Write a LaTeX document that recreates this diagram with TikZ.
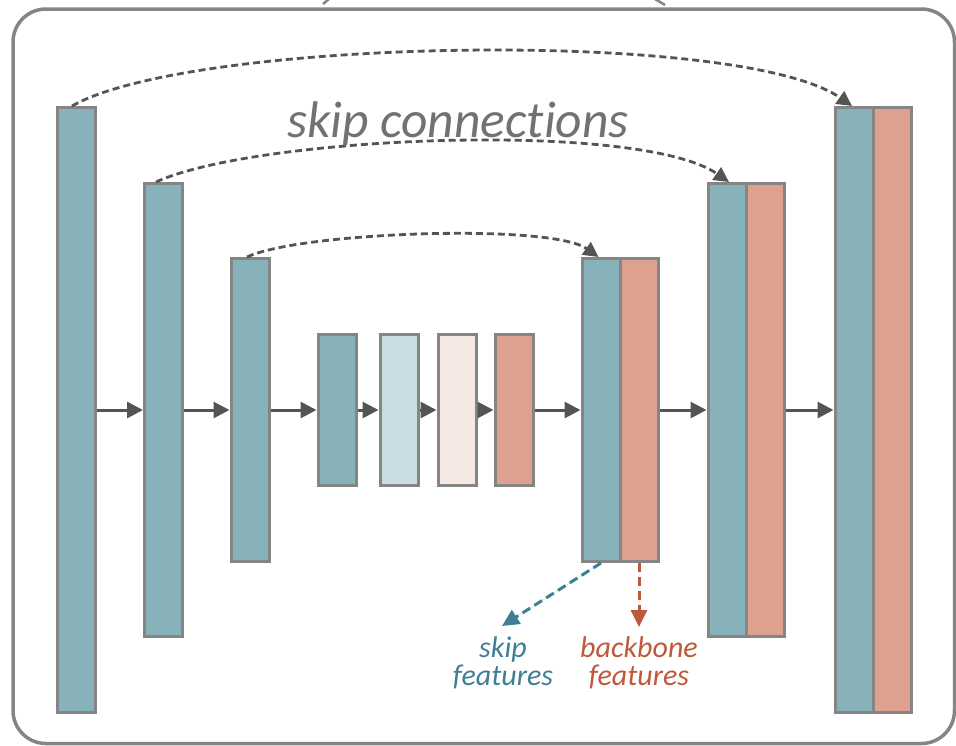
\documentclass[tikz,border=0pt]{standalone}
\usepackage{fontspec}
\newfontfamily\lblfont[Ligatures=NoCommon]{Carlito}
\usetikzlibrary{arrows.meta,calc}
\definecolor{tealblk}{HTML}{87B2B9}
\definecolor{salmonblk}{HTML}{DEA08F}
\definecolor{paleteal}{HTML}{CADDE2}
\definecolor{palesalmon}{HTML}{F5E7E2}
\definecolor{edgegray}{HTML}{858585}
\definecolor{flowgray}{HTML}{545454}
\definecolor{textgray}{HTML}{727272}
\definecolor{skipteal}{HTML}{3F7F96}
\definecolor{rust}{HTML}{C0583B}
\begin{document}
\begin{tikzpicture}[x=1pt,y=-1pt,
  blk/.style={draw=edgegray,line width=3pt,rectangle,inner sep=0pt,minimum width=38pt},
  flow/.style={draw=flowgray,line width=3pt,-{Triangle[length=16pt,width=16pt]}},
  skiparc/.style={draw=flowgray,line width=2.8pt,dash pattern=on 7pt off 4pt,
    -{Triangle[length=15pt,width=15pt]}},
  featarrow/.style={line width=3pt,dash pattern=on 9pt off 5pt,
    -{Triangle[length=17pt,width=16pt]}},
  lbl/.style={font=\lblfont\itshape\fontsize{30}{28}\selectfont,inner sep=0pt,
    align=center,anchor=base}]

\useasboundingbox (0,0) rectangle (956,745);

% outer frame
\draw[edgegray,line width=3.5pt,rounded corners=33pt] (13,9) rectangle (954.5,743.5);
% stray strokes at the top edge
\draw[edgegray,line width=2.5pt] (329,-1) -- (323,4);
\draw[edgegray,line width=2.5pt] (655,-1) -- (665,5);

% encoder
\node[blk,fill=tealblk,minimum height=605pt] (b1) at (76.5,410) {};
\node[blk,fill=tealblk,minimum height=453pt] (b2) at (163.5,410) {};
\node[blk,fill=tealblk,minimum height=303pt] (b3) at (250,410) {};

% bottleneck
\node[blk,fill=tealblk,minimum height=151pt] (m1) at (337,410) {};
\node[blk,fill=paleteal,minimum height=151pt] (m2) at (399,410) {};
\node[blk,fill=palesalmon,minimum height=151pt] (m3) at (457,410) {};
\node[blk,fill=salmonblk,minimum height=151pt] (m4) at (514,410) {};

% decoder (skip half + backbone half)
\node[blk,fill=tealblk,minimum height=303pt] (aT) at (601,410) {};
\node[blk,fill=salmonblk,minimum height=303pt] (aS) at (639,410) {};
\node[blk,fill=tealblk,minimum height=453pt] (bT) at (727,410) {};
\node[blk,fill=salmonblk,minimum height=453pt] (bS) at (765,410) {};
\node[blk,fill=tealblk,minimum height=605pt] (cT) at (854,410) {};
\node[blk,fill=salmonblk,minimum height=605pt] (cS) at (892,410) {};

% main flow
\draw[flow] (b1.east) -- (b2.west);
\draw[flow] (b2.east) -- (b3.west);
\draw[flow] (b3.east) -- (m1.west);
\draw[flow] (m1.east) -- (m2.west);
\draw[flow] (m2.east) -- (m3.west);
\draw[flow] (m3.east) -- (m4.west);
\draw[flow] (m4.east) -- (aT.west);
\draw[flow] (aS.east) -- (bT.west);
\draw[flow] (bS.east) -- (cT.west);

% skip connections
\draw[skiparc] ([xshift=-4.5pt]b1.north) .. controls +(119,-68) and +(-112,-78) .. ([xshift=-2pt]cT.north);
\draw[skiparc] ([xshift=-7.5pt]b2.north) .. controls +(100,-46) and +(-90,-62) .. ([xshift=2pt]bT.north);
\draw[skiparc] ([xshift=-3pt]b3.north) .. controls +(53,-25) and +(-48,-34) .. ([xshift=-2.5pt]aT.north);

\node[font=\lblfont\itshape\fontsize{51.5}{51.5}\selectfont,text=textgray,anchor=base,inner sep=0pt]
  (title) at (458,137) {skip connections};

% feature split
\coordinate (skipend) at (502,626);
\coordinate (bbend) at (639,627);
\draw[featarrow,draw=skipteal,fill=skipteal] (aT.south) -- (skipend);
\draw[featarrow,draw=rust,fill=rust] (aS.south) -- (bbend);

\node[lbl,text=skipteal] (sk) at (503,685) {skip\\features};
\node[lbl,text=rust] (bb) at (639,685) {backbone\\features};
\end{tikzpicture}
\end{document}
